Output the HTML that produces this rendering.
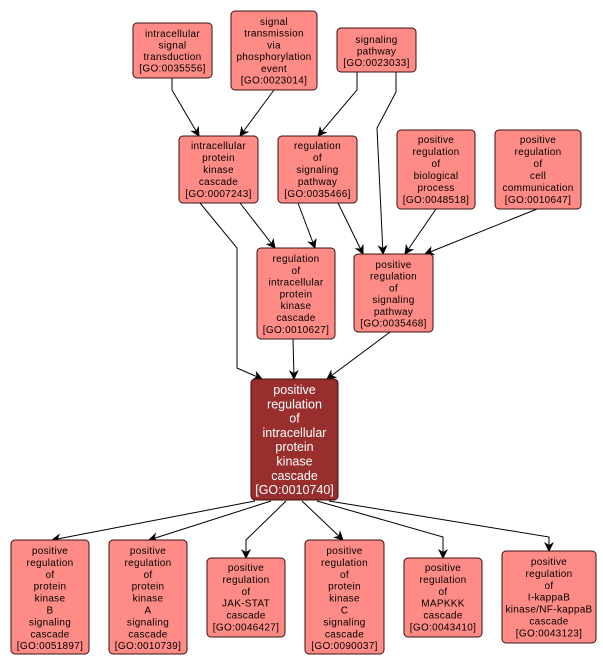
<!DOCTYPE html>
<html><head><meta charset="utf-8"><style>
html,body{margin:0;padding:0;background:#fff;}
svg{display:block;font-family:"Liberation Sans",sans-serif;}
.n{fill:#fe8b86;stroke:#3a1010;stroke-width:1;}
.m{fill:#992e2e;stroke:#3a1010;stroke-width:1;}
text{font-size:10px;fill:#000;text-anchor:middle;letter-spacing:0.3px;}
.w{font-size:12.5px;fill:#fff;letter-spacing:0;}
.e{fill:none;stroke:#000;stroke-width:1;marker-end:url(#a);}
</style></head><body>
<svg width="603" height="666" viewBox="0 0 603 666">
<defs><marker id="a" markerWidth="10" markerHeight="10" refX="9" refY="5" orient="auto" markerUnits="userSpaceOnUse"><path d="M0,0 L10,5 L0,10 L3,5 z" fill="#000"/></marker></defs>
<!-- edges -->
<polyline class="e" points="172,78 172,90 199,136"/>
<polyline class="e" points="274,90 240,136"/>
<polyline class="e" points="357,72 357,90 318,136"/>
<polyline class="e" points="396,72 396,92 377,128 383,254"/>
<polyline class="e" points="200,203 237,248 237,368 262,379"/>
<polyline class="e" points="240,203 275,248"/>
<polyline class="e" points="298,203 315,248"/>
<polyline class="e" points="338,203 363,254"/>
<polyline class="e" points="436,209 405,254"/>
<polyline class="e" points="537,209 425,254"/>
<polyline class="e" points="293,339 294,379"/>
<polyline class="e" points="390,332 327,379"/>
<polyline class="e" points="255,501 52,540"/>
<polyline class="e" points="271,501 149,540"/>
<polyline class="e" points="286,501 246,540 246,558"/>
<polyline class="e" points="302,501 343,540"/>
<polyline class="e" points="317,501 443,537 443,558"/>
<polyline class="e" points="329,501 549,537 549,551"/>
<!-- nodes -->
<rect class="n" x="133" y="23" width="79" height="55" rx="4"/>
<text x="172.5" y="37">intracellular<tspan x="172.5" dy="11.5">signal</tspan><tspan x="172.5" dy="11.5">transduction</tspan><tspan x="172.5" dy="11.5">[GO:0035556]</tspan></text>
<rect class="n" x="231" y="11" width="86" height="79" rx="4"/>
<text x="274" y="25">signal<tspan x="274" dy="11.7">transmission</tspan><tspan x="274" dy="11.7">via</tspan><tspan x="274" dy="11.7">phosphorylation</tspan><tspan x="274" dy="11.7">event</tspan><tspan x="274" dy="11.7">[GO:0023014]</tspan></text>
<rect class="n" x="337" y="28" width="79" height="44" rx="4"/>
<text x="376.5" y="43">signaling<tspan x="376.5" dy="11.5">pathway</tspan><tspan x="376.5" dy="11.5">[GO:0023033]</tspan></text>
<rect class="n" x="179" y="136" width="79" height="67" rx="4"/>
<text x="218.5" y="149">intracellular<tspan x="218.5" dy="12">protein</tspan><tspan x="218.5" dy="12">kinase</tspan><tspan x="218.5" dy="12">cascade</tspan><tspan x="218.5" dy="12">[GO:0007243]</tspan></text>
<rect class="n" x="278" y="136" width="79" height="67" rx="4"/>
<text x="317.5" y="149">regulation<tspan x="317.5" dy="12">of</tspan><tspan x="317.5" dy="12">signaling</tspan><tspan x="317.5" dy="12">pathway</tspan><tspan x="317.5" dy="12">[GO:0035466]</tspan></text>
<rect class="n" x="397" y="130" width="78" height="79" rx="4"/>
<text x="436" y="143">positive<tspan x="436" dy="12">regulation</tspan><tspan x="436" dy="12">of</tspan><tspan x="436" dy="12">biological</tspan><tspan x="436" dy="12">process</tspan><tspan x="436" dy="12">[GO:0048518]</tspan></text>
<rect class="n" x="495" y="130" width="86" height="79" rx="4"/>
<text x="538" y="143">positive<tspan x="538" dy="12">regulation</tspan><tspan x="538" dy="12">of</tspan><tspan x="538" dy="12">cell</tspan><tspan x="538" dy="12">communication</tspan><tspan x="538" dy="12">[GO:0010647]</tspan></text>
<rect class="n" x="257" y="248" width="78" height="91" rx="4"/>
<text x="296" y="262">regulation<tspan x="296" dy="11.8">of</tspan><tspan x="296" dy="11.8">intracellular</tspan><tspan x="296" dy="11.8">protein</tspan><tspan x="296" dy="11.8">kinase</tspan><tspan x="296" dy="11.8">cascade</tspan><tspan x="296" dy="11.8">[GO:0010627]</tspan></text>
<rect class="n" x="354" y="254" width="79" height="78" rx="4"/>
<text x="393.5" y="268">positive<tspan x="393.5" dy="11.7">regulation</tspan><tspan x="393.5" dy="11.7">of</tspan><tspan x="393.5" dy="11.7">signaling</tspan><tspan x="393.5" dy="11.7">pathway</tspan><tspan x="393.5" dy="11.7">[GO:0035468]</tspan></text>
<rect class="m" x="251" y="379" width="87" height="121" rx="4"/>
<text class="w" x="294.5" y="394">positive<tspan x="294.5" dy="14.3">regulation</tspan><tspan x="294.5" dy="14.3">of</tspan><tspan x="294.5" dy="14.3">intracellular</tspan><tspan x="294.5" dy="14.3">protein</tspan><tspan x="294.5" dy="14.3">kinase</tspan><tspan x="294.5" dy="14.3">cascade</tspan><tspan x="294.5" dy="14.3">[GO:0010740]</tspan></text>
<rect class="n" x="11" y="540" width="78" height="114" rx="4"/>
<text x="50" y="554">positive<tspan x="50" dy="11.9">regulation</tspan><tspan x="50" dy="11.9">of</tspan><tspan x="50" dy="11.9">protein</tspan><tspan x="50" dy="11.9">kinase</tspan><tspan x="50" dy="11.9">B</tspan><tspan x="50" dy="11.9">signaling</tspan><tspan x="50" dy="11.9">cascade</tspan><tspan x="50" dy="11.9">[GO:0051897]</tspan></text>
<rect class="n" x="109" y="540" width="78" height="114" rx="4"/>
<text x="148" y="554">positive<tspan x="148" dy="11.9">regulation</tspan><tspan x="148" dy="11.9">of</tspan><tspan x="148" dy="11.9">protein</tspan><tspan x="148" dy="11.9">kinase</tspan><tspan x="148" dy="11.9">A</tspan><tspan x="148" dy="11.9">signaling</tspan><tspan x="148" dy="11.9">cascade</tspan><tspan x="148" dy="11.9">[GO:0010739]</tspan></text>
<rect class="n" x="207" y="558" width="78" height="79" rx="4"/>
<text x="246" y="571">positive<tspan x="246" dy="11.9">regulation</tspan><tspan x="246" dy="11.9">of</tspan><tspan x="246" dy="11.9">JAK-STAT</tspan><tspan x="246" dy="11.9">cascade</tspan><tspan x="246" dy="11.9">[GO:0046427]</tspan></text>
<rect class="n" x="305" y="540" width="79" height="114" rx="4"/>
<text x="344.5" y="554">positive<tspan x="344.5" dy="11.9">regulation</tspan><tspan x="344.5" dy="11.9">of</tspan><tspan x="344.5" dy="11.9">protein</tspan><tspan x="344.5" dy="11.9">kinase</tspan><tspan x="344.5" dy="11.9">C</tspan><tspan x="344.5" dy="11.9">signaling</tspan><tspan x="344.5" dy="11.9">cascade</tspan><tspan x="344.5" dy="11.9">[GO:0090037]</tspan></text>
<rect class="n" x="404" y="558" width="78" height="79" rx="4"/>
<text x="443" y="571">positive<tspan x="443" dy="11.9">regulation</tspan><tspan x="443" dy="11.9">of</tspan><tspan x="443" dy="11.9">MAPKKK</tspan><tspan x="443" dy="11.9">cascade</tspan><tspan x="443" dy="11.9">[GO:0043410]</tspan></text>
<rect class="n" x="502" y="551" width="94" height="92" rx="4"/>
<text x="549" y="565">positive<tspan x="549" dy="11.9">regulation</tspan><tspan x="549" dy="11.9">of</tspan><tspan x="549" dy="11.9">I-kappaB</tspan><tspan x="549" dy="11.9">kinase/NF-kappaB</tspan><tspan x="549" dy="11.9">cascade</tspan><tspan x="549" dy="11.9">[GO:0043123]</tspan></text>
</svg>
</body></html>
